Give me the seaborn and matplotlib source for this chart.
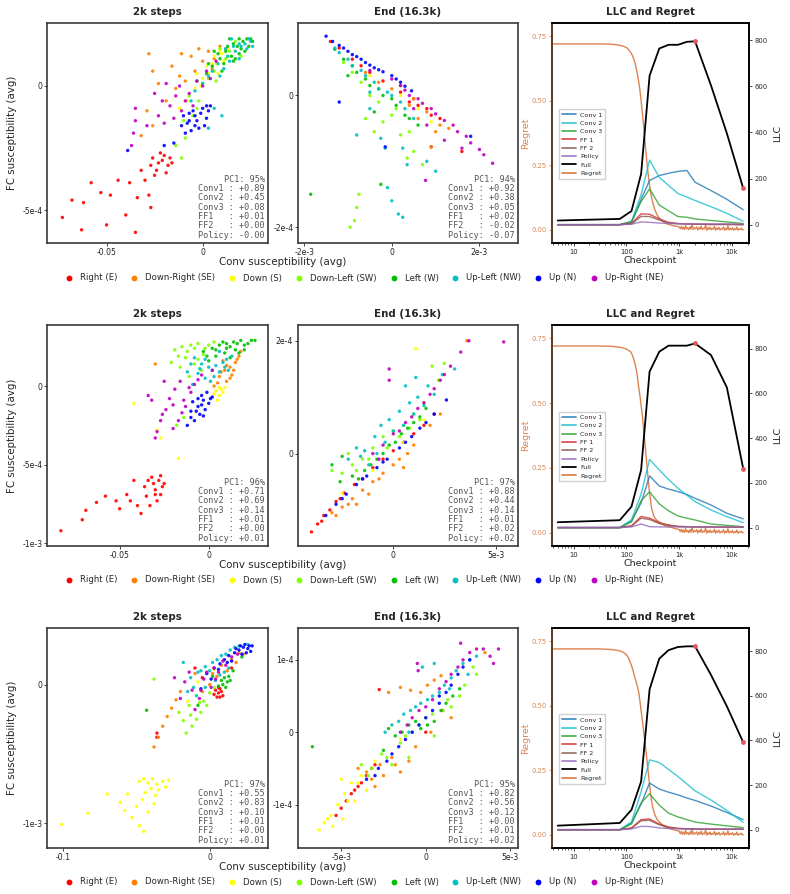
import numpy as np
import pandas as pd
import matplotlib
matplotlib.use("Agg")
import matplotlib.pyplot as plt
import seaborn as sns
from matplotlib.lines import Line2D
from matplotlib.ticker import FixedLocator, NullFormatter, LogLocator

sns.set_theme(style="ticks")
plt.rcParams['font.family'] = ['DejaVu Sans']

# ---------------------------------------------------------------- categories
DIRECTIONS = ["Right (E)", "Down-Right (SE)", "Down (S)", "Down-Left (SW)",
              "Left (W)", "Up-Left (NW)", "Up (N)", "Up-Right (NE)"]
DIR_COLORS = ["#ff0000", "#ff8000", "#ffff00", "#80ff00",
              "#00c000", "#00c0c0", "#0000ff", "#c000c0"]
LAYERS = ["Conv1", "Conv2", "Conv3", "FF1", "FF2", "Policy"]

# ---------------------------------------------------------------- row 1, 2k steps  (x in 1e-2, y in 1e-4)
a1_E = [(-2.6,-2.9),(-2.3,-3.1),(-2.0,-2.8),(-1.8,-3.2),(-2.4,-3.4),(-2.1,-3.0),(-1.7,-2.9),(-2.7,-3.2),(-1.9,-3.5),(-2.2,-2.7),(-1.6,-3.1),(-2.5,-3.6),(-3.2,-3.4),(-3.8,-3.9),(-4.4,-3.8),(-4.8,-4.4),(-3.4,-4.5),(-2.8,-4.4),(-2.7,-4.9),(-4.0,-5.2),(-5.3,-4.3),(-5.8,-3.9),(-6.2,-4.7),(-6.8,-4.6),(-7.3,-5.3),(-5.0,-5.6),(-3.5,-5.9),(-6.3,-5.8),(-3.0,-3.8)]
a1_SE = [(-2.6,0.6),(-2.3,0.1),(-2.9,-1.0),(-2.6,-1.6),(-1.6,0.8),(-1.1,1.3),(-0.6,1.2),(-0.2,1.5),(0.3,1.4),(0.9,1.6),(-1.4,-0.1),(-0.9,0.2),(-3.2,-2.0),(-1.9,-0.6),(0.5,0.7),(-2.8,1.3),(0.0,1.0),(0.6,1.1),(1.2,1.5),(-0.4,0.6),(-1.2,0.4)]
a1_S = [(0.5,0.9),(1.0,1.3),(0.0,0.3),(-0.4,-0.1),(0.8,0.5),(1.3,1.5),(-0.8,-0.6),(0.2,0.8),(1.1,1.0),(-1.2,-0.9),(-0.3,0.5),(0.6,1.2),(0.7,0.9),(1.4,1.2),(0.3,0.5),(-0.1,0.0),(0.9,1.4)]
a1_SW = [(-1.4,-2.4),(-1.1,-2.9),(-0.9,-2.1),(-0.5,-1.2),(0.0,0.1),(0.6,0.6),(1.2,1.1),(1.7,1.8),(-0.2,-0.6),(2.0,1.2),(0.9,1.5),(-0.7,-0.4),(-0.3,-0.9),(0.3,0.3),(0.7,0.2),(1.4,1.4),(-1.0,-1.4)]
a1_W = [(1.6,1.7),(2.1,1.8),(2.4,1.6),(1.2,1.4),(1.9,1.3),(0.9,1.1),(1.6,1.0),(0.5,0.8),(1.4,1.9),(2.5,1.9),(0.2,0.5),(1.0,0.6),(2.2,1.4),(1.8,1.6),(-0.3,0.2),(0.6,1.4),(2.3,1.9),(1.9,1.9),(1.3,1.6),(0.8,1.3),(2.0,1.5),(1.5,1.2),(1.1,0.9),(0.3,0.9),(2.6,1.8),(1.7,1.1)]
a1_NW = [(2.0,1.6),(2.5,1.8),(1.3,1.2),(1.7,1.4),(0.8,0.9),(2.3,1.5),(0.3,0.4),(1.1,0.7),(-0.4,-0.2),(0.6,-0.9),(1.0,-1.2),(0.3,-1.7),(-0.6,-0.6),(1.5,1.9),(2.6,1.6),(2.2,1.7),(1.9,1.7),(1.6,1.6),(1.4,1.0),(1.9,1.1),(0.5,0.6),(0.9,0.4),(1.2,1.5),(2.4,1.9),(0.0,0.1)]
a1_N = [(-1.0,-1.2),(-0.8,-1.5),(-0.5,-1.0),(-0.3,-1.4),(0.0,-0.9),(0.3,-1.0),(-0.6,-1.8),(-0.2,-1.7),(0.2,-1.3),(-0.9,-1.9),(0.4,-0.8),(-0.4,-1.2),(-3.9,-2.6),(-2.0,-2.4),(-1.5,-2.3),(-0.7,-1.4),(0.1,-1.6),(-0.1,-1.1),(-0.7,-1.1),(0.2,-0.8),(-0.4,-1.6),(-1.1,-1.6)]
a1_NE = [(-3.5,-0.9),(-3.5,-1.4),(-3.6,-1.9),(-3.7,-2.4),(-2.5,-0.3),(-2.3,-1.2),(-2.0,-1.5),(-1.7,-0.8),(-1.4,-0.4),(-1.1,-1.0),(-0.7,-0.3),(-0.3,0.2),(0.2,0.6),(0.7,1.0),(-1.9,0.1),(-2.9,-1.6),(-1.5,-1.3),(-0.9,-0.6),(-0.5,-0.8),(0.0,0.0),(0.4,0.3),(-1.2,0.0),(-2.1,-0.6)]

# ---------------------------------------------------------------- row 1, end  (x in 1e-3, y in 1e-4)
b1_E = [(-1.4,0.82),(-0.9,0.55),(-0.5,0.35),(0.2,0.05),(0.6,-0.15),(0.9,-0.3),(1.1,-0.35),(1.6,-0.85),(0.4,-0.1),(0.9,-0.78),(-1.2,0.72),(-0.7,0.45),(-0.2,0.22),(0.5,-0.05),(0.8,-0.2)]
b1_SE = [(0.2,0.15),(0.5,-0.05),(0.8,-0.25),(1.0,-0.55),(0.9,-0.78),(-0.3,0.2),(1.3,-0.5),(0.6,-0.35),(-0.6,0.35),(0.0,0.1),(0.4,-0.15),(1.1,-0.45)]
b1_S = [(-0.5,0.3),(0.2,0.0),(0.6,-0.2),(0.9,-0.4)]
b1_SW = [(-0.6,-0.35),(-0.4,-0.55),(-0.2,-0.4),(0.2,-0.6),(0.5,-0.85),(0.7,-1.05),(-0.75,-1.5),(-0.8,-1.7),(-0.85,-1.9),(-0.95,-2.0),(-0.3,-0.1),(0.1,-0.2),(-0.7,0.2),(0.35,-0.95),(-0.9,0.35),(-0.5,0.0),(0.0,-0.3),(0.4,-0.55),(-1.1,0.5)]
b1_W = [(-1.1,0.55),(-0.8,0.35),(-0.5,0.15),(-0.2,0.0),(0.1,-0.15),(0.3,-0.3),(-0.4,-0.25),(0.6,-0.45),(-1.0,0.3),(-1.85,-1.5),(-0.25,-1.35),(-0.9,0.45),(-0.6,0.25),(-0.3,0.1),(0.0,-0.05),(0.4,-0.35),(-1.3,0.7)]
b1_NW = [(-1.2,0.65),(-0.9,0.45),(-0.6,0.3),(-0.3,0.1),(0.0,0.0),(0.3,-0.2),(-0.25,-0.65),(-0.15,-0.8),(0.25,-0.8),(0.35,-1.05),(0.8,-1.0),(1.0,-1.15),(-0.1,-1.4),(0.0,-1.6),(0.15,-1.8),(0.25,-1.85),(-0.5,-0.2),(-0.8,-0.6),(-1.0,0.55),(-0.7,0.38),(-0.4,0.2),(-0.1,0.05),(0.2,-0.1),(0.5,-0.35),(-0.5,0.05),(-1.3,0.72)]
b1_N = [(-1.5,0.90),(-1.35,0.82),(-1.2,0.76),(-1.0,0.67),(-0.8,0.59),(-0.6,0.50),(-0.4,0.42),(-0.2,0.36),(0.1,0.25),(0.3,0.14),(0.45,0.07),(-0.15,-0.78),(1.8,-0.62),(-1.2,-0.1),(-1.1,0.72),(-0.7,0.55),(-0.5,0.46),(-0.3,0.39),(0.0,0.3),(0.2,0.2),(-0.9,0.62)]
b1_NE = [(0.0,0.25),(0.3,0.08),(0.6,-0.05),(0.9,-0.2),(1.2,-0.38),(1.5,-0.55),(1.8,-0.72),(2.1,-0.90),(2.3,-1.03),(1.6,-0.80),(1.2,-0.68),(0.8,-0.45),(-0.5,0.38),(0.77,-1.29),(0.2,0.15),(0.4,0.0),(0.7,-0.12),(1.0,-0.28),(1.4,-0.45),(1.7,-0.62),(2.0,-0.82),(0.5,-0.2)]

# ---------------------------------------------------------------- row 2, 2k steps  (x in 1e-2, y in 1e-4)
a2_E = [(-3.4,-6.0),(-3.1,-6.2),(-2.8,-6.0),(-2.6,-6.4),(-3.0,-6.6),(-2.7,-6.9),(-3.2,-5.8),(-2.9,-7.3),(-3.3,-7.6),(-2.5,-6.2),(-3.6,-6.4),(-4.2,-6.0),(-4.6,-6.9),(-5.2,-7.3),(-5.8,-7.0),(-6.3,-7.4),(-5.0,-7.8),(-4.0,-7.6),(-3.8,-8.1),(-6.9,-7.9),(-7.1,-8.5),(-8.3,-9.2),(-4.4,-7.3),(-3.5,-7.0),(-2.7,-5.7),(-3.0,-6.9)]
a2_SE = [(0.8,1.6),(1.2,1.2),(1.5,1.5),(1.7,1.9),(0.6,0.6),(1.0,0.3),(0.9,1.0),(0.3,0.0),(-3.0,1.4),(1.8,2.2),(1.3,0.7),(1.4,1.0),(1.0,1.3),(1.6,1.7),(0.5,0.2),(1.2,0.5),(0.7,0.9)]
a2_S = [(0.4,-0.3),(0.6,-0.6),(0.8,-0.4),(0.5,-0.9),(0.9,-0.1),(-4.2,-1.1),(-2.7,-3.3),(-1.7,-4.6),(-2.9,-2.8),(0.7,-0.2),(0.6,-0.1),(0.3,-0.5)]
a2_SW = [(-1.9,2.3),(-1.5,2.5),(-1.0,2.6),(-0.6,2.7),(-1.3,1.8),(-0.8,1.4),(-1.6,1.2),(-0.4,1.0),(-2.1,1.5),(-0.2,2.4),(0.3,2.8),(-1.1,0.6),(-1.8,-2.5),(-1.4,-2.0),(-1.2,2.2),(-0.8,2.4),(-0.3,2.0),(-1.7,1.9),(0.0,2.6),(-0.6,1.7)]
a2_W = [(0.2,2.4),(0.6,2.6),(1.0,2.7),(1.4,2.8),(1.8,2.9),(2.4,2.9),(2.0,2.6),(1.5,2.3),(0.9,2.1),(1.2,1.8),(-0.3,2.2),(0.4,1.9),(1.7,2.1),(0.0,1.6),(2.6,2.9),(0.8,2.8),(1.2,2.5),(2.2,2.7),(1.6,2.7),(0.4,2.3),(1.0,2.4),(2.0,2.3),(-0.1,1.9)]
a2_NW = [(-0.8,1.8),(-0.4,1.4),(0.0,1.2),(0.4,1.3),(0.8,1.5),(1.1,1.0),(-0.6,0.8),(-0.2,0.5),(0.3,0.6),(1.3,1.9),(-1.2,0.9),(0.6,2.2),(-0.9,0.1),(-0.2,1.7),(0.2,1.0),(0.6,0.9),(1.0,1.7),(-0.5,1.1),(0.9,1.2),(-1.0,1.4),(0.1,0.3)]
a2_N = [(-0.9,-1.0),(-0.6,-1.3),(-0.3,-0.9),(0.0,-1.1),(-0.5,-1.8),(-0.8,-2.2),(-0.2,-1.5),(0.2,-0.7),(-1.0,-1.6),(-0.4,-0.6),(-1.2,-2.5),(-0.1,-0.4),(-0.7,-1.6),(-0.4,-1.2),(0.1,-0.8),(-0.6,-0.8),(-1.0,-2.0),(-0.3,-1.9)]
a2_NE = [(-2.9,-2.9),(-2.7,-2.2),(-2.4,-1.5),(-2.2,-0.8),(-1.9,-0.2),(-1.6,0.3),(-1.3,-1.3),(-1.0,-0.4),(-0.6,0.4),(-3.4,-0.6),(-3.2,-0.9),(-2.5,0.3),(-1.7,-2.2),(0.2,1.0),(-2.0,-2.7),(-3.0,-3.3),(-1.4,-0.9),(-1.1,-0.1),(-0.8,0.1),(-2.0,-1.2),(-2.6,-1.8),(-0.4,0.7),(-1.5,-1.7)]

# ---------------------------------------------------------------- row 2, end  (x in 1e-3, y in 1e-4)
b2_E = [(-4.0,-1.39),(-3.7,-1.25),(-3.4,-1.10),(-3.1,-1.0),(-2.8,-0.85),(-2.4,-0.7),(-1.9,-0.55),(-1.0,-0.25),(0.0,0.05),(1.0,0.35),(2.0,0.7),(-3.5,-1.2),(-2.6,-0.8),(-1.5,-0.45),(-0.5,-0.1),(0.5,0.2),(1.5,0.5)]
b2_SE = [(-3.0,-1.05),(-2.5,-0.95),(-2.0,-0.8),(-1.5,-0.65),(-1.0,-0.5),(-0.5,-0.35),(0.3,-0.1),(1.0,0.15),(1.8,0.5),(-1.8,-0.9),(-1.2,-0.72),(2.3,0.7),(3.6,2.0),(0.5,-0.25),(-2.8,-1.1),(-2.2,-0.9),(-0.7,-0.45),(0.0,-0.2),(0.7,0.0)]
b2_S = [(-2.5,-0.7),(-1.0,-0.3),(0.5,0.2),(1.5,0.6),(1.1,1.86)]
b2_SW = [(-2.5,-0.35),(-2.0,-0.2),(-1.5,-0.1),(-1.0,0.1),(-0.5,0.3),(0.0,0.4),(0.5,0.5),(1.0,0.7),(1.5,0.9),(2.2,1.3),(2.5,1.6),(-3.0,-0.3),(-2.2,0.0),(1.9,1.55),(-1.8,-0.3),(-1.2,-0.1),(-0.3,0.1),(0.3,0.3),(0.8,0.45),(1.3,0.6)]
b2_W = [(-3.0,-0.2),(-2.6,-0.5),(-2.0,-0.4),(-1.4,-0.3),(-0.8,-0.1),(-0.2,0.15),(0.4,0.35),(1.0,0.55),(1.6,0.8),(-2.5,-0.05),(-1.7,-0.45),(-1.1,-0.2),(-0.5,0.0),(0.1,0.2),(0.7,0.45),(1.3,0.65)]
b2_NW = [(-2.2,-0.1),(-1.8,0.1),(-1.4,0.05),(-0.9,0.3),(-0.6,0.5),(-0.2,0.6),(0.3,0.75),(0.8,0.9),(1.2,1.0),(1.7,1.2),(2.4,1.4),(0.6,1.2),(1.1,1.35),(-1.2,-0.2),(3.0,1.5),(-1.6,-0.05),(-0.4,0.2),(0.0,0.4),(0.5,0.5),(1.0,0.7),(1.5,0.85),(2.0,1.05),(-0.8,0.0)]
b2_N = [(-3.3,-1.1),(-2.8,-0.9),(-2.3,-0.72),(-1.8,-0.55),(-1.3,-0.4),(-0.8,-0.25),(-0.3,-0.1),(0.3,0.1),(0.9,0.3),(1.6,0.55),(2.6,0.95),(-2.5,-0.8),(-1.5,-0.45),(-0.5,-0.15),(0.6,0.2),(1.3,0.45),(2.0,0.7)]
b2_NE = [(-1.0,0.0),(-0.5,0.15),(0.0,0.35),(0.6,0.55),(1.2,0.8),(1.8,1.05),(2.3,1.3),(2.8,1.55),(3.3,1.8),(3.7,2.0),(-0.2,1.5),(-0.2,1.3),(5.4,1.98),(-0.7,-0.1),(0.3,0.4),(0.9,0.65),(1.5,0.9),(2.0,1.15),(2.5,1.4)]

# ---------------------------------------------------------------- row 3, 2k steps  (x in 1e-2, y in 1e-4)
a3_E = [(0.4,-0.4),(0.6,-0.6),(0.8,-0.5),(0.5,-0.9),(0.9,-0.8),(0.7,-0.3),(-3.6,-3.5),(-3.6,-3.8),(-0.5,0.5),(-1.0,1.2),(1.5,1.2),(0.6,-0.2),(0.3,-0.7),(0.7,-0.9)]
a3_SE = [(-3.8,-4.5),(-3.5,-3.8),(-3.2,-3.0),(-2.9,-2.3),(-2.6,-1.7),(-2.3,-1.1),(-2.0,-0.5),(0.5,0.6),(1.2,1.0),(1.8,1.6),(-0.5,-0.5),(0.0,0.0),(2.3,2.2),(0.8,1.4),(1.5,1.8),(2.0,2.3),(0.2,0.8),(-1.0,0.8)]
a3_S = [(-4.8,-7.0),(-4.5,-6.8),(-4.2,-7.1),(-3.9,-6.8),(-3.6,-7.2),(-3.2,-7.0),(-2.8,-6.9),(-4.0,-7.5),(-3.5,-7.6),(-4.4,-7.8),(-3.0,-7.4),(-4.6,-8.3),(-3.8,-8.6),(-4.2,-9.2),(-5.0,-8.8),(-5.6,-7.9),(-6.1,-8.5),(-5.3,-9.6),(-4.8,-10.2),(-4.5,-10.6),(-7.0,-7.9),(-8.3,-9.3),(-10.1,-10.1),(-3.7,-8.0),(-5.8,-9.1),(-1.5,-1.2),(-0.8,0.2),(0.3,1.1)]
a3_SW = [(-1.6,-3.5),(-1.2,-3.0),(-0.9,-2.5),(-0.6,-2.0),(-1.3,-2.2),(-0.4,-1.2),(0.0,-0.6),(-1.8,-2.6),(-2.1,-2.0),(-3.8,0.4),(-0.2,-1.5),(-0.7,-1.3),(0.3,-0.2),(-1.4,-1.5)]
a3_W = [(0.9,0.0),(1.2,0.2),(1.0,0.5),(1.4,0.3),(0.6,-0.1),(-4.3,-1.85),(-0.8,-1.5),(0.2,0.6),(2.2,2.0),(1.1,-0.2),(1.3,0.6),(0.8,0.3),(1.6,1.0)]
a3_NW = [(-1.3,0.5),(-0.8,0.9),(-0.3,1.3),(0.2,1.6),(0.8,2.1),(1.4,2.5),(2.0,2.8),(-1.5,-0.5),(-0.9,-0.8),(-0.3,-0.2),(0.4,0.3),(1.0,0.9),(-1.8,1.6),(2.6,2.9),(0.5,1.8),(1.1,2.2),(1.7,2.7),(-0.6,1.0),(0.0,1.0),(0.7,0.7),(1.3,1.2),(-1.1,-0.2)]
a3_N = [(2.9,2.8),(2.6,2.6),(2.3,2.7),(2.0,2.5),(1.7,2.3),(1.3,2.1),(1.0,1.8),(0.7,1.5),(2.8,2.4),(0.3,1.2),(-0.2,0.8),(1.5,1.7),(0.1,0.4),(-0.6,-0.3),(2.4,2.9),(2.7,2.8),(2.1,2.8),(1.8,2.6),(2.5,2.3),(1.2,1.6),(0.6,1.1),(2.2,2.2)]
a3_NE = [(-1.7,0.2),(-1.2,-0.4),(-0.7,-1.0),(-0.4,0.4),(0.1,-0.2),(0.6,0.9),(1.1,1.4),(-2.0,-1.0),(-1.0,-1.8),(1.9,2.2),(-2.4,0.5),(-0.2,0.9),(0.3,1.2),(0.9,1.7),(1.5,2.0),(-1.4,0.9),(-0.6,-0.4),(0.4,0.4)]

# ---------------------------------------------------------------- row 3, end  (x in 1e-3, y in 1e-4)
b3_E = [(-5.3,-1.15),(-5.0,-1.05),(-4.7,-0.95),(-4.4,-0.85),(-4.0,-0.75),(-3.5,-0.6),(-3.0,-0.45),(-2.75,0.59),(0.0,0.0),(1.0,0.3),(-4.2,-0.8),(-3.8,-0.7),(-3.2,-0.5)]
b3_SE = [(-4.0,-0.5),(-3.5,-0.55),(-3.0,-0.75),(-2.5,-0.6),(-2.0,-0.35),(-1.5,-0.55),(-1.0,-0.4),(-0.3,0.55),(0.1,0.65),(0.5,0.72),(0.9,0.78),(-2.2,0.55),(-1.5,0.62),(-0.9,0.58),(1.5,0.2),(3.5,1.1),(-3.2,-0.65),(-2.7,-0.45),(-1.8,-0.45),(-0.6,-0.2),(0.3,0.0)]
b3_S = [(-6.3,-1.35),(-6.0,-1.25),(-5.6,-1.15),(-5.2,-1.0),(-4.8,-0.85),(-4.4,-0.7),(-5.5,-1.3),(-4.9,-1.2),(-4.2,-0.95),(-3.8,-0.6),(-3.5,-0.8),(-5.0,-0.65),(-3.0,-0.4),(-1.5,-0.1),(-4.6,-0.95),(-4.0,-0.7),(-5.8,-1.2)]
b3_SW = [(-3.8,-0.45),(-3.2,-0.5),(-2.6,-0.3),(-2.0,-0.45),(-1.5,-0.15),(-0.8,0.0),(0.0,0.2),(1.0,0.3),(2.0,0.5),(3.0,0.8),(-1.0,-0.35),(0.5,-0.05),(1.5,0.35),(2.8,0.9),(-3.4,-0.6),(-2.3,-0.35),(-1.2,-0.05),(-0.4,0.1),(0.4,0.25),(1.3,0.45),(2.3,0.65)]
b3_W = [(-6.7,-0.2),(-2.5,-0.25),(-1.8,-0.05),(-1.0,0.1),(-0.3,0.05),(0.5,0.15),(1.2,0.4),(2.0,0.6),(-2.2,0.05),(-1.4,0.0),(-0.6,0.15),(0.1,0.1),(0.9,0.3),(1.6,0.5)]
b3_NW = [(-2.0,0.1),(-1.3,0.25),(-0.6,0.35),(0.1,0.45),(0.8,0.55),(1.5,0.75),(2.2,0.95),(3.0,1.05),(-0.2,0.9),(0.5,0.95),(1.4,0.6),(-1.0,0.0),(2.5,0.8),(-1.6,0.15),(-0.9,0.3),(-0.3,0.4),(0.4,0.5),(1.1,0.65),(1.8,0.85),(2.6,1.0),(-2.4,0.0)]
b3_N = [(-3.5,-0.65),(-2.8,-0.5),(-2.0,-0.3),(-1.2,-0.1),(-0.4,0.1),(0.4,0.3),(1.2,0.55),(1.9,0.8),(2.6,1.0),(0.8,0.5),(-3.0,-0.6),(-2.3,-0.4),(-1.6,-0.2),(-0.8,0.0),(0.0,0.2),(0.8,0.4),(1.5,0.65),(2.2,0.9)]
b3_NE = [(-1.5,0.0),(-0.8,0.2),(0.0,0.35),(0.8,0.6),(1.5,0.8),(2.2,1.0),(3.0,1.15),(3.8,1.05),(4.3,1.15),(4.0,0.95),(-0.5,0.95),(-0.45,0.85),(2.06,1.23),(-1.1,0.1),(-0.4,0.3),(0.4,0.45),(1.2,0.7),(1.9,0.9),(2.6,1.1),(3.4,1.15)]

# ---------------------------------------------------------------- PCA annotations
pc_a1, load_a1 = 95, [0.89, 0.45, 0.08, 0.01, 0.00, -0.0]
pc_b1, load_b1 = 94, [0.92, 0.38, 0.05, 0.02, -0.02, -0.07]
pc_a2, load_a2 = 96, [0.71, 0.69, 0.14, 0.01, 0.00, 0.01]
pc_b2, load_b2 = 97, [0.88, 0.44, 0.14, 0.01, 0.02, 0.02]
pc_a3, load_a3 = 97, [0.55, 0.83, 0.10, 0.01, 0.00, 0.01]
pc_b3, load_b3 = 95, [0.82, 0.56, 0.12, 0.00, 0.01, 0.02]

# ---------------------------------------------------------------- tick values / labels
ticks_a1 = ([-0.05, 0], ["-0.05", "0"], [-5e-4, 0], ["-5e-4", "0"])
ticks_b1 = ([-2e-3, 0, 2e-3], ["-2e-3", "0", "2e-3"], [-2e-4, 0], ["-2e-4", "0"])
ticks_a2 = ([-0.05, 0], ["-0.05", "0"], [-1e-3, -5e-4, 0], ["-1e-3", "-5e-4", "0"])
ticks_b2 = ([0, 5e-3], ["0", "5e-3"], [0, 2e-4], ["0", "2e-4"])
ticks_a3 = ([-0.1, 0], ["-0.1", "0"], [-1e-3, 0], ["-1e-3", "0"])
ticks_b3 = ([-5e-3, 0, 5e-3], ["-5e-3", "0", "5e-3"], [-1e-4, 0, 1e-4], ["-1e-4", "0", "1e-4"])

# ---------------------------------------------------------------- LLC per checkpoint
LLC_STEPS = [5, 75, 125, 190, 275, 420, 630, 950, 1400, 2000, 4000, 8000, 16300]
MARKED_STEPS = [2000, 16300]
LLC_NAMES = ["Conv 1", "Conv 2", "Conv 3", "FF 1", "FF 2", "Policy"]
LLC_COLORS = ["#1f77b4", "#17becf", "#2ca02c", "#d62728", "#8c564b", "#9467bd"]

r1_conv1 = [0, 0, 10, 110, 192, 213, 223, 231, 235, 184, 148, 110, 65]
r1_conv2 = [0, 0, 15, 130, 280, 205, 170, 135, 120, 105, 78, 49, 15]
r1_conv3 = [0, 0, 12, 100, 155, 85, 60, 35, 32, 25, 18, 12, 5]
r1_ff1 = [0, 0, 5, 47, 45, 25, 10, 5, 3, 2, 1, 1, 0]
r1_ff2 = [0, 0, 3, 36, 35, 20, 8, 4, 3, 2, 1, 1, 0]
r1_policy = [0, 0, 2, 12, 10, 7, 5, 4, 3, 3, 3, 3, 3]
r1_full = [18, 25, 59, 220, 646, 764, 780, 780, 793, 795, 604, 396, 158]

r2_conv1 = [0, 0, 30, 110, 231, 186, 172, 161, 148, 131, 101, 64, 39]
r2_conv2 = [0, 0, 35, 150, 305, 258, 215, 176, 145, 116, 79, 49, 22]
r2_conv3 = [0, 0, 25, 120, 160, 106, 75, 52, 42, 34, 16, 10, 4]
r2_ff1 = [0, 0, 8, 50, 42, 22, 12, 5, 4, 3, 3, 2, 2]
r2_ff2 = [0, 0, 6, 42, 36, 18, 10, 5, 4, 3, 3, 2, 2]
r2_policy = [0, 0, 3, 16, 4, 3, 3, 3, 3, 3, 3, 3, 3]
r2_full = [24, 33, 94, 258, 698, 787, 814, 814, 814, 824, 772, 627, 264]

r3_conv1 = [0, 0, 30, 115, 209, 182, 168, 156, 142, 131, 106, 77, 45]
r3_conv2 = [0, 0, 35, 170, 313, 301, 270, 238, 205, 174, 133, 86, 33]
r3_conv3 = [0, 0, 25, 120, 161, 110, 74, 57, 45, 34, 25, 17, 9]
r3_ff1 = [0, 0, 8, 45, 48, 25, 12, 6, 4, 3, 2, 2, 2]
r3_ff2 = [0, 0, 6, 40, 42, 22, 10, 5, 4, 3, 2, 2, 2]
r3_policy = [0, 0, 3, 15, 14, 8, 5, 4, 3, 3, 3, 3, 3]
r3_full = [18, 30, 89, 216, 629, 767, 805, 819, 822, 822, 694, 553, 392]

# ---------------------------------------------------------------- regret per evaluation step
REGRET_STEPS_HEAD = [4, 8, 15, 30, 50, 70, 85, 100, 110, 120, 130, 140, 150, 160, 170, 180, 190, 200,
                     215, 230, 245, 260, 280, 300, 325, 350, 380, 420, 470, 520, 600, 700, 800, 900, 1000]
r1_regret_head = [0.720, 0.720, 0.720, 0.720, 0.719, 0.716, 0.712, 0.706, 0.698, 0.688, 0.675, 0.658, 0.635,
                  0.608, 0.578, 0.542, 0.500, 0.455, 0.390, 0.320, 0.260, 0.210, 0.160, 0.125, 0.095, 0.075,
                  0.058, 0.045, 0.035, 0.029, 0.022, 0.018, 0.015, 0.013, 0.011]
r2_regret_head = [0.720, 0.720, 0.720, 0.720, 0.719, 0.716, 0.713, 0.708, 0.703, 0.698, 0.685, 0.665, 0.640,
                  0.610, 0.565, 0.530, 0.490, 0.455, 0.385, 0.320, 0.260, 0.200, 0.140, 0.095, 0.068, 0.055,
                  0.047, 0.041, 0.034, 0.028, 0.024, 0.021, 0.017, 0.014, 0.012]
r3_regret_head = [0.720, 0.720, 0.720, 0.720, 0.718, 0.714, 0.708, 0.698, 0.685, 0.665, 0.645, 0.620, 0.598,
                  0.578, 0.555, 0.520, 0.480, 0.445, 0.390, 0.340, 0.290, 0.240, 0.180, 0.130, 0.095, 0.075,
                  0.060, 0.050, 0.040, 0.032, 0.026, 0.022, 0.019, 0.016, 0.014]
REGRET_STEPS_TAIL = [1050, 1100, 1150, 1200, 1260, 1320, 1380, 1450, 1520, 1600,
                     1680, 1760, 1850, 1940, 2040, 2140, 2250, 2360, 2480, 2600,
                     2730, 2870, 3010, 3160, 3320, 3490, 3660, 3840, 4030, 4230,
                     4440, 4660, 4900, 5140, 5400, 5670, 5950, 6250, 6560, 6890,
                     7230, 7590, 7970, 8370, 8790, 9230, 9690, 10170, 10680, 11210,
                     11770, 12360, 12980, 13630, 14310, 15020, 15770, 16300]
REGRET_TAIL = [0.004, 0.013, 0.002, 0.010, 0.001, 0.016, 0.003, 0.008, 0.000, 0.012,
               0.002, 0.021, 0.001, 0.007, 0.004, 0.011, -0.001, 0.009, 0.002, 0.014,
               0.000, 0.006, 0.003, 0.018, -0.002, 0.008, 0.001, 0.010, 0.000, 0.005,
               0.002, 0.013, -0.002, 0.007, 0.001, 0.009, -0.001, 0.004, 0.002, 0.011,
               -0.002, 0.006, 0.000, 0.015, -0.001, 0.005, 0.001, 0.008, -0.002, 0.004,
               0.000, 0.010, -0.002, 0.003, 0.001, 0.006, -0.001, 0.000]

REGRET_COLOR = "#dd8452"
MARK_COLOR = "#e05a5a"

# ---------------------------------------------------------------- layout (pixels of the 790x894 canvas)
W, H = 790, 894
ROW_TB = [(23, 243), (325, 546), (628, 848)]
COL_LR = [(47, 268), (298, 518), (552, 749)]
XLABEL_Y = [262, 565, 867]
LEGEND_Y = [278, 580, 882]


def rect(lr, tb):
    (l, r), (t, b) = lr, tb
    return [l / W, 1 - b / H, (r - l) / W, (b - t) / H]


fig = plt.figure(figsize=(W / 100, H / 100), dpi=100)


def draw_scatter(ax, groups, xunit, yunit, xlim, ylim, ticks, pc, loads, title):
    frames = []
    for name, pts in zip(DIRECTIONS, groups):
        arr = np.array(pts, dtype=float)
        frames.append(pd.DataFrame({"x": arr[:, 0] * xunit, "y": arr[:, 1] * yunit, "direction": name}))
    df = pd.concat(frames, ignore_index=True)
    sns.scatterplot(data=df, x="x", y="y", hue="direction", hue_order=DIRECTIONS,
                    palette=DIR_COLORS, s=6, linewidth=0, alpha=0.9, legend=False, ax=ax)
    ax.set_xlim(*xlim)
    ax.set_ylim(*ylim)
    xt, xtl, yt, ytl = ticks
    ax.set_xticks(xt)
    ax.set_xticklabels(xtl)
    ax.set_yticks(yt)
    ax.set_yticklabels(ytl)
    ax.set_xlabel("")
    ax.set_ylabel("")
    ax.tick_params(direction="out", length=2.2, width=0.6, labelsize=5.6, pad=1.2, colors="#222222")
    for s in ax.spines.values():
        s.set_color("#3a3a3a")
        s.set_linewidth(1.2)
    ax.set_title(title, fontsize=7.4, fontweight="bold", pad=6)
    lines = [f"PC1: {pc}%"] + [f"{n:<6}: {v:+.2f}" for n, v in zip(LAYERS, loads)]
    ax.text(0.985, 0.015, "\n".join(lines), transform=ax.transAxes, ha="right", va="bottom",
            multialignment="right", family="DejaVu Sans Mono", fontsize=6.1, color="#555555",
            linespacing=1.05, bbox=dict(facecolor="white", alpha=0.65, edgecolor="none", pad=0.5))


def draw_llc(ax, comps, full, regret_head, ymax):
    regret_x = REGRET_STEPS_HEAD + REGRET_STEPS_TAIL
    regret_y = regret_head + REGRET_TAIL
    sns.lineplot(x=regret_x, y=regret_y, ax=ax, color=REGRET_COLOR, lw=1.0, errorbar=None)
    ax.set_xscale("log")
    ax2 = ax.twinx()
    for vals, col in zip(comps, LLC_COLORS):
        sns.lineplot(x=LLC_STEPS, y=vals, ax=ax2, color=col, lw=1.0, alpha=0.8, errorbar=None)
    sns.lineplot(x=LLC_STEPS, y=full, ax=ax2, color="black", lw=1.3, errorbar=None)
    mx = [s for s in LLC_STEPS if s in MARKED_STEPS]
    my = [v for s, v in zip(LLC_STEPS, full) if s in MARKED_STEPS]
    sns.scatterplot(x=mx, y=my, ax=ax2, color=MARK_COLOR, s=12, linewidth=0, zorder=5)
    ax.set_xlim(3.9, 21000)
    ax.set_ylim(-0.0515, 0.801)
    ax2.set_ylim(-0.1 * ymax, 1.1 * ymax)
    ax.xaxis.set_major_locator(FixedLocator([10, 100, 1000, 10000]))
    ax.set_xticklabels(["10", "100", "1k", "10k"])
    ax.xaxis.set_minor_locator(LogLocator(base=10, subs=np.arange(2, 10)))
    ax.xaxis.set_minor_formatter(NullFormatter())
    ax.set_yticks([0, 0.25, 0.5, 0.75])
    ax.set_yticklabels(["0.00", "0.25", "0.50", "0.75"])
    ax2.set_yticks([0, 200, 400, 600, 800])
    ax.tick_params(axis="both", which="major", direction="out", length=2.5, width=0.6,
                   labelsize=4.9, pad=1.5)
    ax.tick_params(axis="x", which="minor", direction="out", length=1.5, width=0.5)
    ax.tick_params(axis="y", colors=REGRET_COLOR)
    ax2.tick_params(axis="y", direction="out", length=2.5, width=0.6, labelsize=4.9, pad=1.5)
    ax.set_xlabel("Checkpoint", fontsize=6.8, labelpad=1)
    ax.set_ylabel("Regret", fontsize=6.8, color=REGRET_COLOR, labelpad=1)
    ax2.set_ylabel("LLC", fontsize=6.8, labelpad=4)
    ax.set_title("LLC and Regret", fontsize=7.4, fontweight="bold", pad=6)
    for a in (ax, ax2):
        for s in a.spines.values():
            s.set_color("black")
            s.set_linewidth(1.2)
    ax2.spines["left"].set_color("#6b4423")
    handles = [Line2D([0], [0], color=c, lw=1.3, alpha=0.8) for c in LLC_COLORS]
    handles += [Line2D([0], [0], color="black", lw=1.3), Line2D([0], [0], color=REGRET_COLOR, lw=1.3)]
    labels = LLC_NAMES + ["Full", "Regret"]
    ax2.legend(handles, labels, loc="center left", bbox_to_anchor=(0.02, 0.45), fontsize=4.6,
               frameon=True, framealpha=0.9, edgecolor="#cccccc", fancybox=False,
               handlelength=2.3, handletextpad=0.6, labelspacing=0.45, borderpad=0.4)


rows = [
    dict(a=[a1_E, a1_SE, a1_S, a1_SW, a1_W, a1_NW, a1_N, a1_NE],
         b=[b1_E, b1_SE, b1_S, b1_SW, b1_W, b1_NW, b1_N, b1_NE],
         alim=((-0.081, 0.034), (-6.33e-4, 2.54e-4)), blim=((-2.14e-3, 2.88e-3), (-2.24e-4, 1.10e-4)),
         ta=ticks_a1, tb=ticks_b1, pa=(pc_a1, load_a1), pb=(pc_b1, load_b1),
         comps=[r1_conv1, r1_conv2, r1_conv3, r1_ff1, r1_ff2, r1_policy], full=r1_full,
         regret=r1_regret_head),
    dict(a=[a2_E, a2_SE, a2_S, a2_SW, a2_W, a2_NW, a2_N, a2_NE],
         b=[b2_E, b2_SE, b2_S, b2_SW, b2_W, b2_NW, b2_N, b2_NE],
         alim=((-0.0908, 0.0333), (-10.17e-4, 3.88e-4)), blim=((-4.66e-3, 6.1e-3), (-1.64e-4, 2.28e-4)),
         ta=ticks_a2, tb=ticks_b2, pa=(pc_a2, load_a2), pb=(pc_b2, load_b2),
         comps=[r2_conv1, r2_conv2, r2_conv3, r2_ff1, r2_ff2, r2_policy], full=r2_full,
         regret=r2_regret_head),
    dict(a=[a3_E, a3_SE, a3_S, a3_SW, a3_W, a3_NW, a3_N, a3_NE],
         b=[b3_E, b3_SE, b3_S, b3_SW, b3_W, b3_NW, b3_N, b3_NE],
         alim=((-0.111, 0.0398), (-11.8e-4, 4.09e-4)), blim=((-7.55e-3, 5.45e-3), (-1.60e-4, 1.44e-4)),
         ta=ticks_a3, tb=ticks_b3, pa=(pc_a3, load_a3), pb=(pc_b3, load_b3),
         comps=[r3_conv1, r3_conv2, r3_conv3, r3_ff1, r3_ff2, r3_policy], full=r3_full,
         regret=r3_regret_head),
]

legend_handles = [Line2D([0], [0], marker="o", linestyle="none", markersize=4.2,
                         markerfacecolor=c, markeredgewidth=0) for c in DIR_COLORS]

for i, row in enumerate(rows):
    tb = ROW_TB[i]
    ax_a = fig.add_axes(rect(COL_LR[0], tb))
    ax_b = fig.add_axes(rect(COL_LR[1], tb))
    ax_c = fig.add_axes(rect(COL_LR[2], tb))
    draw_scatter(ax_a, row["a"], 1e-2, 1e-4, row["alim"][0], row["alim"][1], row["ta"],
                 row["pa"][0], row["pa"][1], "2k steps")
    draw_scatter(ax_b, row["b"], 1e-3, 1e-4, row["blim"][0], row["blim"][1], row["tb"],
                 row["pb"][0], row["pb"][1], "End (16.3k)")
    ymax = max(row["full"])
    draw_llc(ax_c, row["comps"], row["full"], row["regret"], ymax)
    fig.text(12 / W, 1 - (tb[0] + tb[1]) / 2 / H, "FC susceptibility (avg)", rotation=90,
             ha="center", va="center", fontsize=7.4)
    fig.text(283 / W, 1 - XLABEL_Y[i] / H, "Conv susceptibility (avg)", ha="center", va="center",
             fontsize=7.4)
    fig.legend(legend_handles, DIRECTIONS, loc="center", bbox_to_anchor=(364 / W, 1 - LEGEND_Y[i] / H),
               ncol=8, frameon=False, fontsize=6.1, handlelength=1.0, handletextpad=0.8,
               columnspacing=1.5, borderpad=0.1)

fig.savefig("out.png", dpi=100)
